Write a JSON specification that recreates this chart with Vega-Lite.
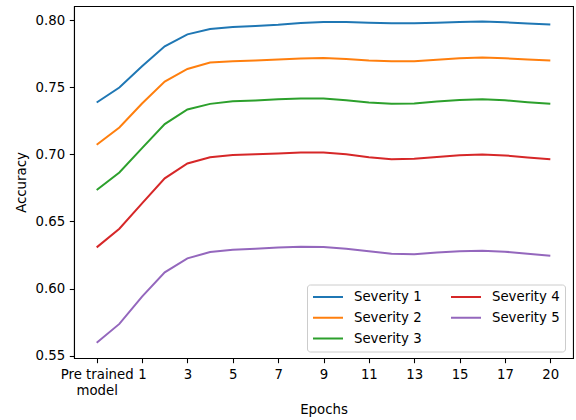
{
  "$schema": "https://vega.github.io/schema/vega-lite/v6.json",
  "width": 499,
  "height": 352,
  "autosize": {"type": "none"},
  "padding": {"left": 74, "top": 6, "right": 3, "bottom": 62},
  "background": "white",
  "config": {
    "font": "DejaVu Sans",
    "view": {"stroke": "black", "strokeWidth": 1.07},
    "axis": {
      "grid": false,
      "domainColor": "black",
      "domainWidth": 1.07,
      "tickColor": "black",
      "tickWidth": 1.07,
      "tickSize": 4.7,
      "labelPadding": 4.7,
      "labelFont": "DejaVu Sans",
      "labelFontSize": 13.3,
      "labelColor": "black",
      "titleFont": "DejaVu Sans",
      "titleFontSize": 13.3,
      "titleFontWeight": "normal",
      "titleColor": "black"
    }
  },
  "data": {
    "values": [
      {"x": 0, "Severity 1": 0.7386, "Severity 2": 0.7071, "Severity 3": 0.6734, "Severity 4": 0.6307, "Severity 5": 0.5597},
      {"x": 1, "Severity 1": 0.7498, "Severity 2": 0.7200, "Severity 3": 0.6865, "Severity 4": 0.6446, "Severity 5": 0.5737},
      {"x": 2, "Severity 1": 0.7656, "Severity 2": 0.7379, "Severity 3": 0.7046, "Severity 4": 0.6635, "Severity 5": 0.5940},
      {"x": 3, "Severity 1": 0.7805, "Severity 2": 0.7542, "Severity 3": 0.7225, "Severity 4": 0.6821, "Severity 5": 0.6121},
      {"x": 4, "Severity 1": 0.7894, "Severity 2": 0.7636, "Severity 3": 0.7334, "Severity 4": 0.6932, "Severity 5": 0.6225},
      {"x": 5, "Severity 1": 0.7934, "Severity 2": 0.7684, "Severity 3": 0.7376, "Severity 4": 0.6979, "Severity 5": 0.6272},
      {"x": 6, "Severity 1": 0.7949, "Severity 2": 0.7693, "Severity 3": 0.7396, "Severity 4": 0.6996, "Severity 5": 0.6289},
      {"x": 7, "Severity 1": 0.7956, "Severity 2": 0.7699, "Severity 3": 0.7402, "Severity 4": 0.7001, "Severity 5": 0.6297},
      {"x": 8, "Severity 1": 0.7965, "Severity 2": 0.7706, "Severity 3": 0.7411, "Severity 4": 0.7007, "Severity 5": 0.6307},
      {"x": 9, "Severity 1": 0.7978, "Severity 2": 0.7714, "Severity 3": 0.7416, "Severity 4": 0.7014, "Severity 5": 0.6312},
      {"x": 10, "Severity 1": 0.7986, "Severity 2": 0.7718, "Severity 3": 0.7416, "Severity 4": 0.7014, "Severity 5": 0.6310},
      {"x": 11, "Severity 1": 0.7986, "Severity 2": 0.7711, "Severity 3": 0.7403, "Severity 4": 0.7001, "Severity 5": 0.6297},
      {"x": 12, "Severity 1": 0.7981, "Severity 2": 0.7699, "Severity 3": 0.7386, "Severity 4": 0.6979, "Severity 5": 0.6278},
      {"x": 13, "Severity 1": 0.7976, "Severity 2": 0.7693, "Severity 3": 0.7376, "Severity 4": 0.6964, "Severity 5": 0.6260},
      {"x": 14, "Severity 1": 0.7976, "Severity 2": 0.7693, "Severity 3": 0.7379, "Severity 4": 0.6967, "Severity 5": 0.6256},
      {"x": 15, "Severity 1": 0.7981, "Severity 2": 0.7705, "Severity 3": 0.7394, "Severity 4": 0.6981, "Severity 5": 0.6268},
      {"x": 16, "Severity 1": 0.7986, "Severity 2": 0.7716, "Severity 3": 0.7405, "Severity 4": 0.6994, "Severity 5": 0.6278},
      {"x": 17, "Severity 1": 0.7989, "Severity 2": 0.7721, "Severity 3": 0.7411, "Severity 4": 0.6999, "Severity 5": 0.6282},
      {"x": 18, "Severity 1": 0.7984, "Severity 2": 0.7716, "Severity 3": 0.7403, "Severity 4": 0.6992, "Severity 5": 0.6275},
      {"x": 19, "Severity 1": 0.7974, "Severity 2": 0.7706, "Severity 3": 0.7388, "Severity 4": 0.6977, "Severity 5": 0.6260},
      {"x": 20, "Severity 1": 0.7967, "Severity 2": 0.7699, "Severity 3": 0.7376, "Severity 4": 0.6964, "Severity 5": 0.6245}
    ]
  },
  "transform": [
    {"fold": ["Severity 1", "Severity 2", "Severity 3", "Severity 4", "Severity 5"], "as": ["series", "acc"]}
  ],
  "mark": {"type": "line", "strokeWidth": 2, "clip": true},
  "encoding": {
    "x": {
      "field": "x",
      "type": "quantitative",
      "scale": {"domain": [-1, 21], "nice": false, "zero": false},
      "axis": {
        "title": "Epochs",
        "values": [0, 2, 4, 6, 8, 10, 12, 14, 16, 18, 20],
        "labelExpr": "datum.value == 0 ? ['Pre trained', 'model'] : (datum.value == 20 ? '20' : '' + (datum.value - 1))",
        "labelLineHeight": 15.7,
        "labelFlush": false,
        "labelOverlap": false,
        "titlePadding": 6
      }
    },
    "y": {
      "field": "acc",
      "type": "quantitative",
      "scale": {"domain": [0.5483, 0.8105], "nice": false, "zero": false},
      "axis": {
        "title": "Accuracy",
        "values": [0.55, 0.6, 0.65, 0.7, 0.75, 0.8],
        "format": ".2f",
        "labelFlush": false,
        "labelOverlap": false,
        "titlePadding": 6
      }
    },
    "color": {
      "field": "series",
      "type": "nominal",
      "scale": {
        "domain": ["Severity 1", "Severity 2", "Severity 3", "Severity 4", "Severity 5"],
        "range": ["#1f77b4", "#ff7f0e", "#2ca02c", "#d62728", "#9467bd"]
      },
      "legend": {
        "title": null,
        "orient": "none",
        "legendX": 233,
        "legendY": 278.5,
        "columns": 2,
        "columnPadding": 28,
        "rowPadding": 5.8,
        "clipHeight": 15,
        "symbolType": "stroke",
        "symbolSize": 900,
        "symbolStrokeWidth": 2,
        "labelOffset": 10,
        "labelFont": "DejaVu Sans",
        "labelFontSize": 13.3,
        "labelColor": "black",
        "padding": 5,
        "strokeColor": "#cccccc",
        "fillColor": "rgba(255,255,255,0.8)",
        "cornerRadius": 3
      }
    }
  }
}
